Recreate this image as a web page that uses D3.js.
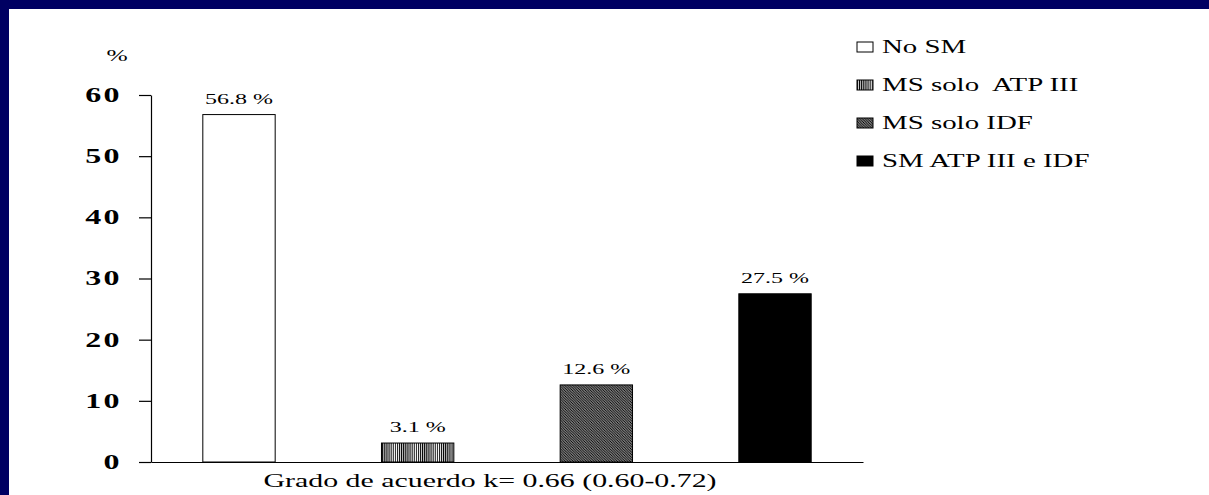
<!DOCTYPE html>
<html>
<head>
<meta charset="utf-8">
<script src="https://cdn.jsdelivr.net/npm/d3@7"></script>
<style>
  html, body { margin: 0; padding: 0; background: #fff; }
  svg { display: block; }
  text { font-family: "Liberation Serif", "Times New Roman", serif; fill: #000; }
</style>
</head>
<body>
<svg id="chart" width="1209" height="495"></svg>
<script>
// ---- data ----
const categories = ["No SM", "MS solo  ATP III", "MS solo IDF", "SM ATP III e IDF"];
const values = [56.8, 3.1, 12.6, 27.5];
const valueLabels = ["56.8 %", "3.1 %", "12.6 %", "27.5 %"];
const yTicks = [0, 10, 20, 30, 40, 50, 60];
const yUnit = "%";
const xTitle = "Grado de acuerdo k= 0.66 (0.60-0.72)";

// ---- setup ----
const W = 1209, H = 495;
const svg = d3.select("#chart");

svg.append("rect").attr("width", W).attr("height", H).attr("fill", "#000062");
svg.append("rect").attr("x", 9).attr("y", 9).attr("width", W - 9).attr("height", H - 9).attr("fill", "#fff");

const defs = svg.append("defs");
const pv = defs.append("pattern").attr("id", "pVert").attr("patternUnits", "userSpaceOnUse")
  .attr("width", 2.1).attr("height", 4);
pv.append("rect").attr("width", 2.1).attr("height", 4).attr("fill", "#fff");
pv.append("rect").attr("x", 0).attr("width", 1.1).attr("height", 4).attr("fill", "#000");

const pd = defs.append("pattern").attr("id", "pDiag").attr("patternUnits", "userSpaceOnUse")
  .attr("width", 2.6).attr("height", 2.6);
pd.append("rect").attr("width", 2.6).attr("height", 2.6).attr("fill", "#fff");
pd.append("path").attr("d", "M-1,-1 L3.6,3.6 M-1,1.6 L1,3.6 M1.6,-1 L3.6,1")
  .attr("stroke", "#000").attr("stroke-width", 1.3);

const fills = ["#fff", "url(#pVert)", "url(#pDiag)", "#000"];

const x = d3.scaleBand().domain(categories).range([151, 863]).paddingInner(0.595).paddingOuter(0.29);
const y = d3.scaleLinear().domain([0, 60]).range([462, 95]);

function stretch(sx) {
  return sel => sel.each(function () {
    const t = d3.select(this);
    const tx = +t.attr("x") || 0, ty = +t.attr("y") || 0;
    t.attr("x", 0).attr("y", 0)
     .attr("transform", `translate(${tx},${ty}) scale(${sx},1)`);
  });
}

// bars
svg.append("g").selectAll("rect").data(values).join("rect")
  .attr("x", (d, i) => x(categories[i]))
  .attr("y", d => y(d))
  .attr("width", x.bandwidth())
  .attr("height", d => y(0) - y(d))
  .attr("fill", (d, i) => fills[i])
  .attr("stroke", "#000").attr("stroke-width", 1);

// value labels
svg.append("g").selectAll("text").data(values).join("text")
  .attr("x", (d, i) => x(categories[i]) + x.bandwidth() / 2)
  .attr("y", d => y(d) - 11)
  .attr("text-anchor", "middle")
  .attr("font-size", 15)
  .text((d, i) => valueLabels[i])
  .call(stretch(1.6));

// y axis
const yAxis = svg.append("g").attr("transform", "translate(151,0)")
  .call(d3.axisLeft(y).tickValues(yTicks).tickSize(12).tickSizeOuter(0).tickPadding(17).tickFormat(d3.format("d")));
yAxis.select(".domain").attr("stroke", "#000").attr("stroke-width", 1.2);
yAxis.selectAll(".tick line").attr("stroke", "#000").attr("stroke-width", 1.2);
yAxis.selectAll(".tick text")
  .attr("font-family", "Liberation Serif, serif")
  .attr("font-size", 20).attr("font-weight", "bold").attr("fill", "#000")
  .attr("letter-spacing", 1.5)
  .call(stretch(1.6));

// x axis line
const xAxis = svg.append("g").attr("transform", `translate(0,${y(0)})`)
  .call(d3.axisBottom(x).tickSize(0).tickSizeOuter(0).tickFormat(""));
xAxis.select(".domain").attr("stroke", "#000").attr("stroke-width", 1.2);
xAxis.selectAll(".tick").remove();

// unit label
svg.append("text").attr("x", 117).attr("y", 61).attr("text-anchor", "middle")
  .attr("font-size", 17).text(yUnit).call(stretch(1.5));

// x title
svg.append("text").attr("x", 490).attr("y", 487).attr("text-anchor", "middle")
  .attr("font-size", 18).text(xTitle).call(stretch(1.66));

// legend
const leg = svg.append("g").selectAll("g").data(categories).join("g")
  .attr("transform", (d, i) => `translate(857,${53 + i * 38})`);
leg.append("rect").attr("x", 0).attr("y", -11).attr("width", 16).attr("height", 10)
  .attr("fill", (d, i) => fills[i]).attr("stroke", "#000").attr("stroke-width", 1);
leg.append("text").attr("x", 25).attr("y", 0).attr("font-size", 19)
  .attr("xml:space", "preserve").style("white-space", "pre")
  .text(d => d).call(stretch(1.52));
</script>
</body>
</html>
